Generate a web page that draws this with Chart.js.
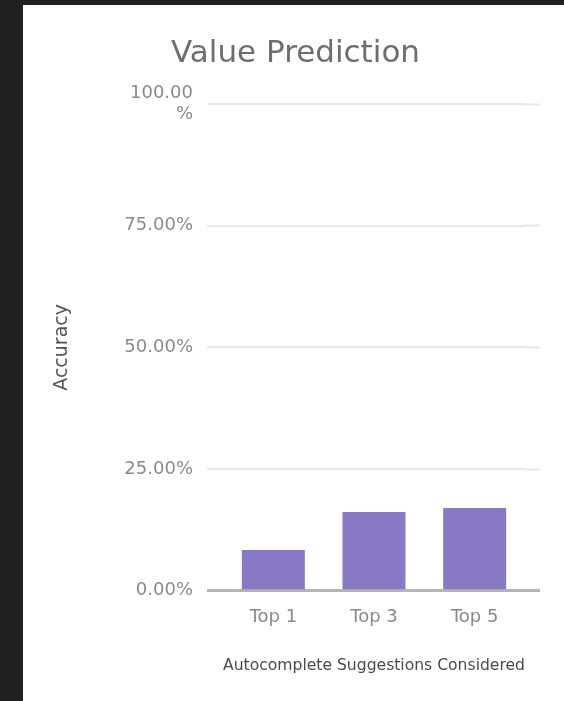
<!DOCTYPE html>
<html lang="en">
<head>
  <meta charset="UTF-8">
  <title>Value Prediction</title>
  <script src="https://cdn.jsdelivr.net/npm/chart.js"></script>
  <style>
    html, body {
      margin: 0;
      padding: 0;
      background: #212121;
      overflow: hidden;
    }
    #panel {
      position: absolute;
      left: 23px;
      top: 5px;
      width: 541px;
      height: 696px;
      background: #fff;
    }
  </style>
</head>
<body>

<div id="panel">
  <canvas id="myChart"></canvas>
</div>

<script>
// accuracy per number of autocomplete suggestions (percent)
const categories = ['Top 1', 'Top 3', 'Top 5'];
const accuracy = [8.4, 16.2, 17.0];
const yTicks = [0, 25, 50, 75, 100];

const FONT = "'DejaVu Sans', sans-serif";

function gridColor(ctx) {
  return ctx.tick && ctx.tick.value === 0 ? '#b4b4b4' : '#e8e8e8';
}
function gridWidth(ctx) {
  return ctx.tick && ctx.tick.value === 0 ? 3 : 2;
}

const ctx = document.getElementById('myChart').getContext('2d');

const chart = new Chart(ctx, {
  type: 'bar',
  data: {
    labels: categories,
    datasets: [{
      label: 'Accuracy',
      data: accuracy,
      backgroundColor: '#8878c6',
      borderWidth: 0,
      barPercentage: 0.626,
      categoryPercentage: 1
    }]
  },
  options: {
    responsive: true,
    maintainAspectRatio: false,
    animation: false,
    layout: {
      padding: { left: 28, right: 24, top: 0, bottom: 25.4 }
    },
    plugins: {
      legend: { display: false },
      tooltip: { enabled: false },
      title: {
        display: true,
        text: 'Value Prediction',
        color: '#6e6e6e',
        font: { family: FONT, size: 31, weight: 'normal' },
        padding: { top: 30, bottom: 31.8 }
      }
    },
    scales: {
      x: {
        grid: { display: false, drawTicks: false },
        border: { display: false },
        ticks: {
          color: '#8a8a8a',
          font: { family: FONT, size: 18 },
          padding: 16
        },
        title: {
          display: true,
          text: 'Autocomplete Suggestions Considered',
          color: '#4a4a4a',
          font: { family: FONT, size: 16 },
          padding: { top: 12, bottom: 0 }
        }
      },
      y: {
        min: 0,
        max: 100,
        afterBuildTicks: (scale) => {
          scale.ticks = yTicks.map(v => ({ value: v }));
        },
        afterFit: (scale) => { scale.width = 172; },
        grid: {
          color: gridColor,
          lineWidth: gridWidth,
          tickColor: gridColor,
          tickWidth: gridWidth,
          drawTicks: true,
          tickLength: 16
        },
        border: { display: false },
        ticks: {
          color: '#8a8a8a',
          font: { family: FONT, size: 18 },
          padding: 14,
          callback: (v) => v === 100 ? ['100.00', '%'] : v.toFixed(2) + '%'
        },
        title: {
          display: true,
          text: 'Accuracy',
          color: '#555',
          font: { family: FONT, size: 19 },
          padding: { top: 0, bottom: 0 }
        }
      },
      // right side only carries the short stub of each grid line
      y2: {
        position: 'right',
        min: 0,
        max: 100,
        afterBuildTicks: (scale) => {
          scale.ticks = yTicks.map(v => ({ value: v }));
        },
        afterFit: (scale) => { scale.width = 15; },
        grid: {
          drawOnChartArea: false,
          drawTicks: true,
          tickLength: 15,
          tickColor: gridColor,
          tickWidth: gridWidth
        },
        border: { display: false },
        ticks: { display: false }
      }
    }
  }
});
</script>

</body>
</html>
